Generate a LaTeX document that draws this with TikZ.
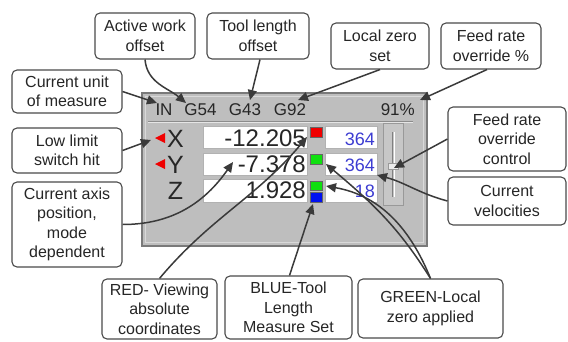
\documentclass[tikz,border=0pt]{standalone}
\usepackage{fontspec}
\setmainfont{Liberation Sans}
\usetikzlibrary{arrows.meta}
\definecolor{lblline}{HTML}{4A4A4A}
\definecolor{arrcol}{HTML}{3A3A3A}
\definecolor{txt}{HTML}{262626}
\definecolor{panel}{HTML}{BEBEBE}
\definecolor{panelline}{HTML}{7A7A7A}
\definecolor{velblue}{HTML}{3C3CD2}
\definecolor{sqred}{HTML}{F00000}
\definecolor{sqgreen}{HTML}{10E010}
\definecolor{sqblue}{HTML}{0010F0}
\begin{document}
\begin{tikzpicture}[x=1pt,y=-1pt,
  lbl/.style={draw=lblline, line width=1.1pt, rounded corners=5pt, fill=white, text=txt,
    align=center, font=\fontsize{16}{19.5}\selectfont, inner sep=0pt},
  arr/.style={draw=arrcol, line width=1.5pt, -{Triangle[length=10pt,width=9pt]}},
  hdr/.style={text=txt, font=\fontsize{17}{17}\selectfont, inner sep=0pt},
  axislbl/.style={text=txt, font=\fontsize{25}{25}\selectfont, inner sep=0pt, anchor=base},
  valtxt/.style={text=txt, font=\fontsize{24}{24}\selectfont, inner sep=0pt, anchor=base east},
  veltxt/.style={text=velblue, font=\fontsize{18}{18}\selectfont, inner sep=0pt, anchor=base east},
  rowbox/.style={fill=white, draw=black!30, line width=0.6pt},
  sq/.style={draw=black!60, line width=0.5pt}
]
\useasboundingbox (0,0) rectangle (568,341);

% ---- panel ----
\draw[fill=panel, draw=panelline, line width=1.2pt] (142,93) rectangle (427,246);
\draw[draw=white!85!black, line width=1pt] (145.5,96.5) rectangle (423.5,242.5);
\draw[draw=black!45, line width=0.8pt] (148,121) -- (413,121);
\draw[draw=white!90!black, line width=0.6pt] (148,122.2) -- (413,122.2);

% header
\node[hdr, anchor=base] (inlbl) at (164,115) {IN};
\node[hdr, anchor=base] (g54) at (200.5,115) {G54};
\node[hdr, anchor=base] (g43) at (245,115) {G43};
\node[hdr, anchor=base] (g92) at (290,115) {G92};
\node[hdr, anchor=base east] (pct) at (415,115) {91\%};

% rows
\draw[rowbox] (203,126) rectangle (307,148);
\draw[rowbox] (203,153) rectangle (307,175);
\draw[rowbox] (203,179) rectangle (307,202);
\draw[rowbox] (325,126) rectangle (377,148);
\draw[rowbox] (325,153) rectangle (377,175);
\draw[rowbox] (325,179) rectangle (377,202);

% limit triangles
\fill[sqred] (155,138) -- (165,133) -- (165,143) -- cycle;
\fill[sqred] (155,164) -- (165,159) -- (165,169) -- cycle;

\node[axislbl] (ax) at (175.5,147) {X};
\node[axislbl] (ay) at (175.5,173) {Y};
\node[axislbl] (az) at (175.5,199) {Z};

\node[valtxt] (vx) at (306,146) {-12.205};
\node[valtxt] (vy) at (306,172) {-7.378};
\node[valtxt] (vz) at (306,198) {1.928};

\node[veltxt] (sx) at (375,145) {364};
\node[veltxt] (sy) at (375,171) {364};
\node[veltxt] (sz) at (375,197) {18};

% coloured squares
\draw[sq, fill=sqred] (310,127) rectangle (322,137);
\draw[sq, fill=sqgreen] (310,154) rectangle (322,164);
\draw[sq, fill=sqgreen] (310,181) rectangle (322,190.5);
\draw[sq, fill=sqblue] (310,192) rectangle (322,202);

% slider
\draw[fill=black!22, draw=black!40, line width=0.8pt] (383,123) rectangle (403,205);
\draw[draw=black!50, line width=1.2pt] (392.5,132) -- (392.5,197);
\draw[draw=white, line width=0.8pt] (394,132) -- (394,197);
\draw[fill=white!92!black, draw=black!40, line width=0.5pt] (388,163) rectangle (398,169);

% ---- label boxes ----
\node[lbl, minimum width=110pt, minimum height=43pt] (unit) at (67,91.5) {Current unit\\of measure};
\node[lbl, minimum width=100pt, minimum height=46pt] (awo) at (145,36) {Active work\\offset};
\node[lbl, minimum width=102pt, minimum height=46pt] (tlo) at (258,36) {Tool length\\offset};
\node[lbl, minimum width=98pt, minimum height=46pt] (lzs) at (380,46) {Local zero\\set};
\node[lbl, minimum width=100pt, minimum height=46pt] (fro) at (491,46) {Feed rate\\override \%};
\node[lbl, minimum width=110pt, minimum height=45pt] (low) at (67,150.5) {Low limit\\switch hit};
\node[lbl, minimum width=110pt, minimum height=85pt] (cap) at (67,224.5) {Current axis\\position,\\mode\\dependent};
\node[lbl, minimum width=118pt, minimum height=64pt] (frc) at (507,139) {Feed rate\\override\\control};
\node[lbl, minimum width=118pt, minimum height=48pt] (cv) at (507,201) {Current\\velocities};
\node[lbl, minimum width=115pt, minimum height=60pt] (red) at (159.5,309) {RED- Viewing\\absolute\\coordinates};
\node[lbl, minimum width=127pt, minimum height=63pt] (blue) at (288.5,307.5) {BLUE-Tool\\Length\\Measure Set};
\node[lbl, minimum width=145pt, minimum height=59pt] (green) at (430.5,308.5) {GREEN-Local\\zero applied};

% ---- arrow tips ----
\coordinate (tIN) at (157,103);
\coordinate (tG54) at (186,103);
\coordinate (tG43) at (250,100);
\coordinate (tG92) at (298,100);
\coordinate (tPct) at (420,100);
\coordinate (tLow) at (151,140);
\coordinate (tPos) at (233,162);
\coordinate (tRed) at (307,137);
\coordinate (tBlue) at (313,204);
\coordinate (tGy) at (326,164);
\coordinate (tGz) at (326,186);
\coordinate (tSl) at (394,168);
\coordinate (tVel) at (377,175);

% ---- connectors ----
\draw[arr] (unit.east) -- (tIN);
\draw[arr] (awo.south) to[out=-85,in=140] (tG54);
\draw[arr] ([xshift=2pt]tlo.south) -- (tG43);
\draw[arr] (lzs.south) -- (tG92);
\draw[arr] ([xshift=-4pt]fro.south) -- (tPct);
\draw[arr] (low.east) -- (tLow);
\draw[arr] (cap.east) to[out=0,in=235] (tPos);
\draw[arr] (red.north) to[out=50,in=230] (tRed);
\draw[arr] ([xshift=1pt]blue.north) -- (tBlue);
\draw[arr] (green.north) to[out=122,in=-40] (tGy);
\draw[arr] (green.north) to[out=112,in=-10] (tGz);
\draw[arr] (frc.west) -- (tSl);
\draw[arr] (cv.west) to[out=165,in=-15] (tVel);
\end{tikzpicture}
\end{document}
